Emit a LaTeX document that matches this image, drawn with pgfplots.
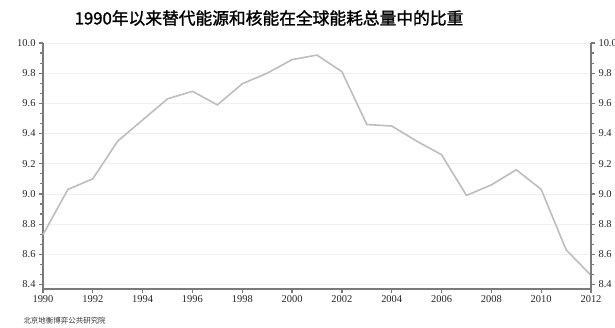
\documentclass[border=0pt]{standalone}
\usepackage{pgfplots}
\pgfplotsset{compat=1.18}
\usepackage{fontspec}
\setmainfont{Liberation Serif}
\newfontfamily\cjk{Noto Sans CJK SC}
\newfontfamily\cjkb[FakeBold=1.5]{Noto Sans CJK SC}
\definecolor{axgray}{HTML}{7A7A7A}
\definecolor{linegray}{HTML}{BDBDBD}
\definecolor{gridgray}{HTML}{F0F0F0}
\begin{document}
\begin{tikzpicture}
\useasboundingbox (0,0) rectangle (615bp,328bp);
\pgfplotsset{
  common/.style={
    at={(43bp,39bp)}, anchor=south west,
    scale only axis, width=548bp, height=246bp,
    xmin=1990, xmax=2012, ymin=8.37, ymax=10.0,
    xtick={1990,1992,...,2012}, minor x tick num=1,
    ytick={8.4,8.6,...,10.0}, minor y tick num=2,
    tick align=outside, major tick length=4bp, minor tick length=3bp,
    tick style={axgray, line width=1.2pt},
    axis line style={axgray, line width=1.6pt},
    ticklabel style={font=\fontsize{10.5}{11}\selectfont, text=black!85},
    /pgf/number format/assume math mode=true,
    xticklabel style={/pgf/number format/1000 sep={}},
    yticklabel style={/pgf/number format/fixed, /pgf/number format/fixed zerofill, /pgf/number format/precision=1},
    clip=false,
  }
}
\begin{axis}[common,
  axis x line*=bottom, axis y line*=left,
  ymajorgrids, major grid style={gridgray, line width=0.8pt},
  xticklabel style={yshift=0.5bp},
]
\addplot[linegray, line width=1.6pt] coordinates {
(1990,8.73) (1991,9.03) (1992,9.10) (1993,9.35) (1994,9.49) (1995,9.63)
(1996,9.68) (1997,9.59) (1998,9.73) (1999,9.80) (2000,9.89) (2001,9.92)
(2002,9.81) (2003,9.46) (2004,9.45) (2005,9.35) (2006,9.26) (2007,8.99)
(2008,9.06) (2009,9.16) (2010,9.03) (2011,8.63) (2012,8.46)
};
\end{axis}
\begin{axis}[common,
  axis x line=none, axis y line*=right,
]
\end{axis}
\node[anchor=center, font=\cjkb\fontsize{16.8}{18}\selectfont] at (269bp,310bp) {1990年以来替代能源和核能在全球能耗总量中的比重};
\node[anchor=west, font=\cjk\fontsize{7.5}{8}\selectfont, text=black!80] at (20bp,7bp) {北京地衡博弈公共研究院};
\end{tikzpicture}
\end{document}
